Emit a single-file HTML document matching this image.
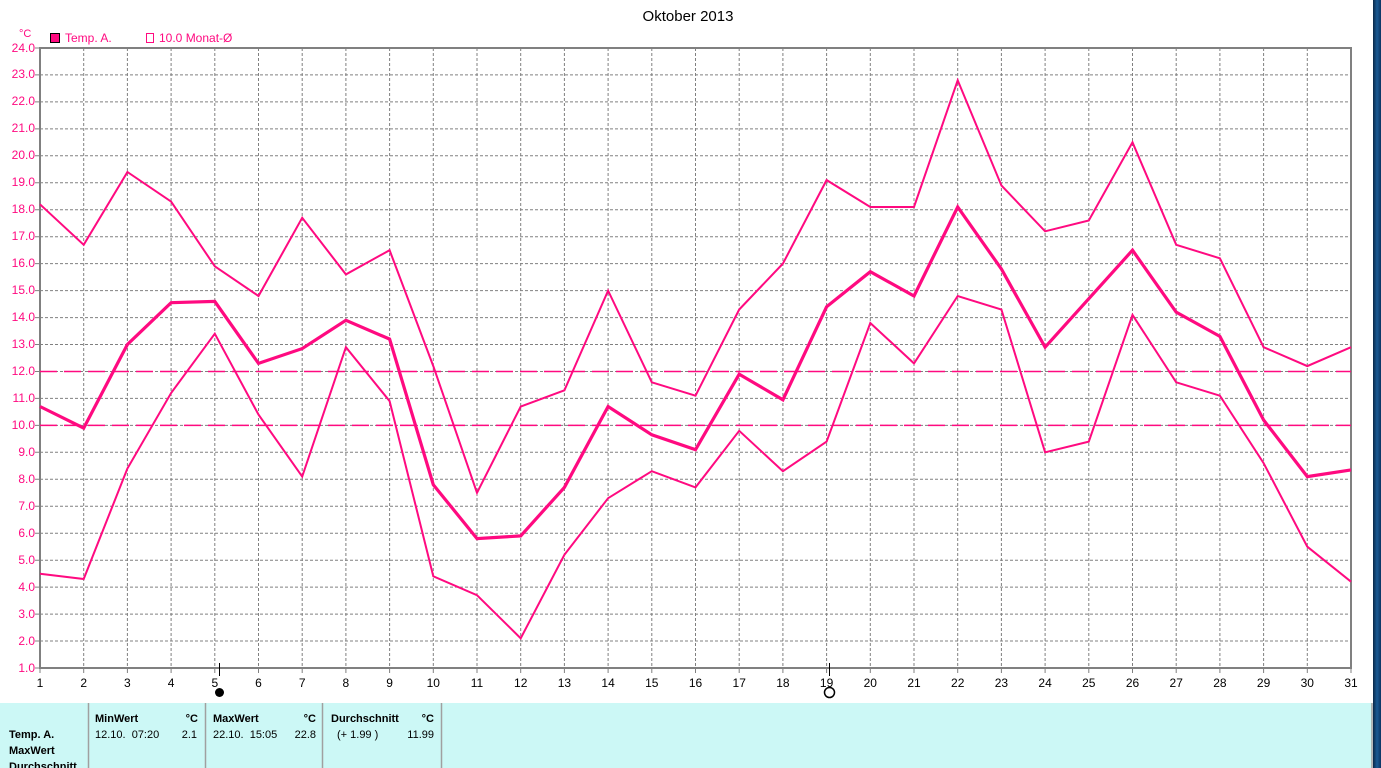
<!DOCTYPE html>
<html><head><meta charset="utf-8"><style>
html,body{margin:0;padding:0;background:#fff;}
svg{display:block;font-family:"Liberation Sans",sans-serif;}
</style></head><body>
<svg width="1381" height="768" viewBox="0 0 1381 768" xmlns="http://www.w3.org/2000/svg">
<rect x="0" y="0" width="1381" height="768" fill="#fff"/>
<defs><linearGradient id="bl" x1="0" y1="0" x2="1" y2="0"><stop offset="0" stop-color="#0a2848"/><stop offset="0.5" stop-color="#1a5a94"/><stop offset="1" stop-color="#0c3462"/></linearGradient></defs>
<rect x="1373" y="0" width="8" height="768" fill="url(#bl)"/>
<text x="688" y="21" font-size="15" text-anchor="middle" fill="#000">Oktober 2013</text>
<text x="19" y="37" font-size="11" fill="#ff0a80">°C</text>
<rect x="50.5" y="33.5" width="9" height="9" fill="#ff0a80" stroke="#000" stroke-width="1"/>
<text x="65" y="42" font-size="12" fill="#ff0a80">Temp. A.</text>
<path d="M146.5 33.5 H153.5 V42.5 H146.5 Z" fill="none" stroke="#ff0a80" stroke-width="1"/>
<text x="159" y="42" font-size="12" fill="#ff0a80">10.0 Monat-Ø</text>
<g stroke="#808080" stroke-width="1" stroke-dasharray="3,2" fill="none">
<path d="M40 641H1351M40 614.1H1351M40 587.1H1351M40 560.2H1351M40 533.2H1351M40 506.3H1351M40 479.3H1351M40 452.3H1351M40 425.4H1351M40 398.4H1351M40 371.5H1351M40 344.5H1351M40 317.6H1351M40 290.6H1351M40 263.6H1351M40 236.7H1351M40 209.7H1351M40 182.8H1351M40 155.8H1351M40 128.9H1351M40 101.9H1351M40 74.9H1351"/>
<path d="M83.7 48V668M127.4 48V668M171.1 48V668M214.8 48V668M258.5 48V668M302.2 48V668M345.9 48V668M389.6 48V668M433.3 48V668M477 48V668M520.7 48V668M564.4 48V668M608.1 48V668M651.8 48V668M695.5 48V668M739.2 48V668M782.9 48V668M826.6 48V668M870.3 48V668M914 48V668M957.7 48V668M1001.4 48V668M1045.1 48V668M1088.8 48V668M1132.5 48V668M1176.2 48V668M1219.9 48V668M1263.6 48V668M1307.3 48V668"/>
</g>
<g stroke="#808080" stroke-width="1" fill="none">
<path d="M35 668H40M35 641H40M35 614.1H40M35 587.1H40M35 560.2H40M35 533.2H40M35 506.3H40M35 479.3H40M35 452.3H40M35 425.4H40M35 398.4H40M35 371.5H40M35 344.5H40M35 317.6H40M35 290.6H40M35 263.6H40M35 236.7H40M35 209.7H40M35 182.8H40M35 155.8H40M35 128.9H40M35 101.9H40M35 74.9H40M35 48H40"/>
<path d="M40 668V673M83.7 668V673M127.4 668V673M171.1 668V673M214.8 668V673M258.5 668V673M302.2 668V673M345.9 668V673M389.6 668V673M433.3 668V673M477 668V673M520.7 668V673M564.4 668V673M608.1 668V673M651.8 668V673M695.5 668V673M739.2 668V673M782.9 668V673M826.6 668V673M870.3 668V673M914 668V673M957.7 668V673M1001.4 668V673M1045.1 668V673M1088.8 668V673M1132.5 668V673M1176.2 668V673M1219.9 668V673M1263.6 668V673M1307.3 668V673M1351 668V673"/>
</g>
<g stroke="#808080" stroke-width="2" fill="none">
<path d="M40 47V669M39 48H1352M1351 47V669M39 668H1352"/>
</g>
<g stroke="#ff0a80" stroke-width="1.5" stroke-dasharray="17,7" fill="none">
<path d="M40 371.5H1351"/>
<path d="M40 425.4H1351"/>
</g>
<g fill="none" stroke="#ff0a80" stroke-linejoin="miter">
<polyline stroke-width="2" points="40,204.3 83.7,244.8 127.4,172 171.1,201.6 214.8,266.3 258.5,296 302.2,217.8 345.9,274.4 389.6,250.2 433.3,366.1 477,492.8 520.7,406.5 564.4,390.3 608.1,290.6 651.8,382.3 695.5,395.7 739.2,309.5 782.9,263.6 826.6,180.1 870.3,207 914,207 957.7,80.3 1001.4,185.5 1045.1,231.3 1088.8,220.5 1132.5,142.3 1176.2,244.8 1219.9,258.3 1263.6,347.2 1307.3,366.1 1351,347.2"/>
<polyline stroke-width="3.2" points="40,406.5 83.7,428.1 127.4,344.5 171.1,302.7 214.8,301.4 258.5,363.4 302.2,348.6 345.9,320.3 389.6,339.1 433.3,484.7 477,538.6 520.7,535.9 564.4,487.4 608.1,406.5 651.8,434.8 695.5,449.7 739.2,374.2 782.9,399.8 826.6,306.8 870.3,271.7 914,296 957.7,207 1001.4,269 1045.1,347.2 1088.8,298.7 1132.5,250.2 1176.2,312.2 1219.9,336.4 1263.6,420 1307.3,476.6 1351,469.9"/>
<polyline stroke-width="2" points="40,573.7 83.7,579 127.4,468.5 171.1,393 214.8,333.7 258.5,414.6 302.2,476.6 345.9,347.2 389.6,401.1 433.3,576.3 477,595.2 520.7,638.3 564.4,554.8 608.1,498.2 651.8,471.2 695.5,487.4 739.2,430.8 782.9,471.2 826.6,441.6 870.3,323 914,363.4 957.7,296 1001.4,309.5 1045.1,452.3 1088.8,441.6 1132.5,314.9 1176.2,382.3 1219.9,395.7 1263.6,463.1 1307.3,546.7 1351,581.7"/>
</g>
<g font-size="12" fill="#ff0a80" text-anchor="end">
<text x="35" y="672">1.0</text><text x="35" y="645">2.0</text><text x="35" y="618">3.0</text><text x="35" y="591">4.0</text><text x="35" y="564">5.0</text><text x="35" y="537">6.0</text><text x="35" y="510">7.0</text><text x="35" y="483">8.0</text><text x="35" y="456">9.0</text><text x="35" y="429">10.0</text><text x="35" y="402">11.0</text><text x="35" y="375">12.0</text><text x="35" y="348">13.0</text><text x="35" y="321">14.0</text><text x="35" y="294">15.0</text><text x="35" y="267">16.0</text><text x="35" y="240">17.0</text><text x="35" y="213">18.0</text><text x="35" y="186">19.0</text><text x="35" y="159">20.0</text><text x="35" y="132">21.0</text><text x="35" y="105">22.0</text><text x="35" y="78">23.0</text><text x="35" y="52">24.0</text>
</g>
<g font-size="12" fill="#000" text-anchor="middle">
<text x="40" y="687">1</text><text x="83.7" y="687">2</text><text x="127.4" y="687">3</text><text x="171.1" y="687">4</text><text x="214.8" y="687">5</text><text x="258.5" y="687">6</text><text x="302.2" y="687">7</text><text x="345.9" y="687">8</text><text x="389.6" y="687">9</text><text x="433.3" y="687">10</text><text x="477" y="687">11</text><text x="520.7" y="687">12</text><text x="564.4" y="687">13</text><text x="608.1" y="687">14</text><text x="651.8" y="687">15</text><text x="695.5" y="687">16</text><text x="739.2" y="687">17</text><text x="782.9" y="687">18</text><text x="826.6" y="687">19</text><text x="870.3" y="687">20</text><text x="914" y="687">21</text><text x="957.7" y="687">22</text><text x="1001.4" y="687">23</text><text x="1045.1" y="687">24</text><text x="1088.8" y="687">25</text><text x="1132.5" y="687">26</text><text x="1176.2" y="687">27</text><text x="1219.9" y="687">28</text><text x="1263.6" y="687">29</text><text x="1307.3" y="687">30</text><text x="1351" y="687">31</text>
</g>
<path d="M219.5 663V676M829.5 663V676" stroke="#000" stroke-width="1"/>
<circle cx="219.5" cy="692.5" r="4.5" fill="#000"/>
<circle cx="829.5" cy="692.5" r="5" fill="none" stroke="#000" stroke-width="1.5"/>
<rect x="0" y="703" width="1372" height="65" fill="#ccf8f6"/>
<path d="M88.5 703V768M205.5 703V768M322.5 703V768M441.5 703V768M1372 703V768" stroke="#a0a0a0" stroke-width="1.5"/>
<g font-size="11" fill="#000">
<g font-weight="bold">
<text x="95" y="722">MinWert</text><text x="198" y="722" text-anchor="end">°C</text>
<text x="213" y="722">MaxWert</text><text x="316" y="722" text-anchor="end">°C</text>
<text x="331" y="722">Durchschnitt</text><text x="434" y="722" text-anchor="end">°C</text>
<text x="9" y="738">Temp. A.</text>
<text x="9" y="754">MaxWert</text>
<text x="9" y="770">Durchschnitt</text>
</g>
<text x="95" y="738" xml:space="preserve">12.10.  07:20</text><text x="197" y="738" text-anchor="end">2.1</text>
<text x="213" y="738" xml:space="preserve">22.10.  15:05</text><text x="316" y="738" text-anchor="end">22.8</text>
<text x="337" y="738" xml:space="preserve">(+ 1.99 )</text><text x="434" y="738" text-anchor="end">11.99</text>
</g>
</svg>
</body></html>
